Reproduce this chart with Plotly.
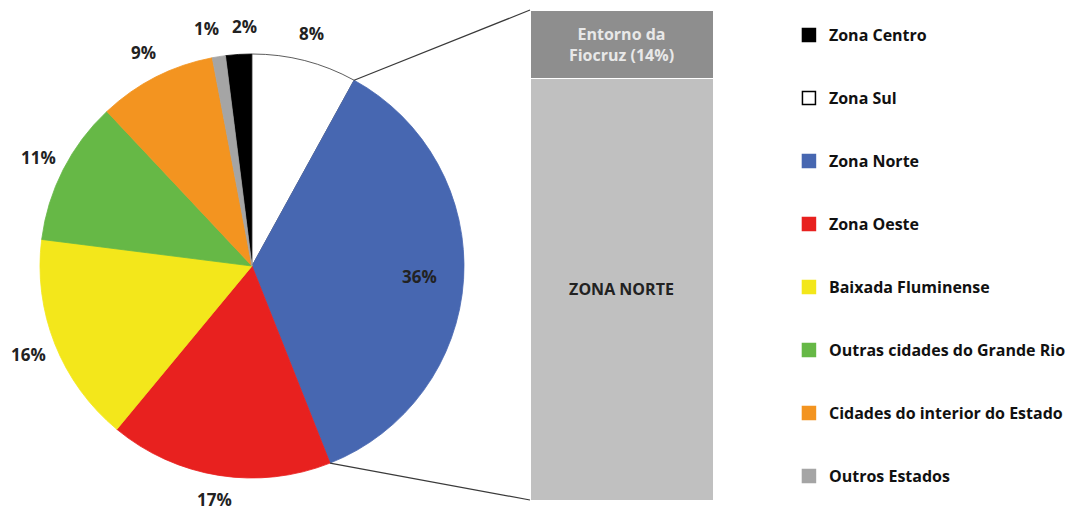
import math
import plotly.graph_objects as go

# data (legend order, pie runs clockwise in this order)
regions = ["Zona Centro", "Zona Sul", "Zona Norte", "Zona Oeste", "Baixada Fluminense",
           "Outras cidades do Grande Rio", "Cidades do interior do Estado", "Outros Estados"]
shares = [2, 8, 36, 17, 16, 11, 9, 1]
colors = ["#000000", "#ffffff", "#4767b1", "#e8211f", "#f3e71b", "#66b846", "#f39420", "#a5a5a5"]

# breakdown of Zona Norte shown in the side bar (bottom to top)
norte_parts = ["ZONA NORTE", "Entorno da<br>Fiocruz (14%)"]
norte_values = [86, 14]
norte_colors = ["#c0c0c0", "#8e8e8e"]
norte_text_colors = ["#222222", "#e8e8e8"]

# page body has an 8px margin, so the figure is a bit smaller than the window
W, H = 1072, 502
FONT = "Open Sans"

# pie geometry in pixels (figure coordinates)
cx, cy, r = 244, 258, 212
pie_dom_x = [(cx - r) / W, (cx + r) / W]
pie_dom_y = [(H - cy - r) / H, (H - cy + r) / H]

bar_dom_x = [522 / W, 705 / W]
bar_dom_y = [(H - 492) / H, (H - 2) / H]

total = sum(shares)
start = -360 * shares[0] / total  # Zona Centro sits just left of 12 o'clock

fig = go.Figure()

line_cols = ["#333333" if c == "#ffffff" else c for c in colors]

fig.add_trace(go.Pie(
    labels=regions,
    values=shares,
    sort=False,
    direction="clockwise",
    rotation=360 + start,
    marker=dict(colors=colors, line=dict(color=line_cols, width=0.8)),
    textinfo="none",
    domain=dict(x=pie_dom_x, y=pie_dom_y),
    showlegend=False,
    hoverinfo="label+percent",
))

# percentage labels at each slice's mid angle
labels = []
cum = 0
for reg, val in zip(regions, shares):
    mid = start + 360 * (cum + val / 2) / total
    cum += val
    rad = 0.79 * r if reg == "Zona Norte" else r + 28
    px = cx + rad * math.sin(math.radians(mid))
    py = min(cy - rad * math.cos(math.radians(mid)), H - 11)
    labels.append([px, py, f"{val}%"])

# push apart outside labels that would collide
min_dx, min_dy = 38, 16
for _ in range(5):
    for i in range(len(labels)):
        for j in range(i + 1, len(labels)):
            a, b = labels[i], labels[j]
            dx = b[0] - a[0]
            if abs(dx) < min_dx and abs(b[1] - a[1]) < min_dy:
                push = (min_dx - abs(dx)) / 2 * (1 if dx >= 0 else -1)
                a[0] -= push
                b[0] += push

for px, py, txt in labels:
    fig.add_annotation(x=px / W, y=1 - py / H, xref="paper", yref="paper",
                       xanchor="center", yanchor="middle",
                       text=txt, showarrow=False,
                       font=dict(family=FONT, size=17, color="#222222", weight="bold"))

for part, val, col, tcol in zip(norte_parts, norte_values, norte_colors, norte_text_colors):
    fig.add_trace(go.Bar(
        x=[0], y=[val], width=1,
        marker=dict(color=col, line=dict(color="#ffffff", width=1)),
        text=[part], textposition="inside", insidetextanchor="middle",
        textangle=0, constraintext="none",
        textfont=dict(family=FONT, size=16, color=tcol, weight="bold"),
        showlegend=False, hoverinfo="skip",
    ))

# legend entries with wide spacing
for i, (reg, col) in enumerate(zip(regions, colors)):
    fig.add_trace(go.Scatter(
        x=[None], y=[None], mode="markers", name=reg,
        marker=dict(symbol="square", size=13, color=col,
                    line=dict(color="#000000" if col == "#ffffff" else col, width=1.5)),
        legendgroup=f"g{i}", showlegend=True,
    ))

# connector lines from the Zona Norte slice edges to the bar corners
norte_idx = regions.index("Zona Norte")
a0 = start + 360 * sum(shares[:norte_idx]) / total
a1 = start + 360 * sum(shares[:norte_idx + 1]) / total
for ang, ty in [(a0, bar_dom_y[1]), (a1, bar_dom_y[0])]:
    px = cx + r * math.sin(math.radians(ang))
    py = cy - r * math.cos(math.radians(ang))
    fig.add_shape(type="line", xref="paper", yref="paper",
                  x0=px / W, y0=1 - py / H, x1=bar_dom_x[0], y1=ty,
                  line=dict(color="#3a3a3a", width=1.2))

fig.update_layout(
    width=W, height=H,
    margin=dict(l=0, r=0, t=0, b=0),
    paper_bgcolor="white", plot_bgcolor="white",
    barmode="stack",
    xaxis=dict(domain=bar_dom_x, range=[-0.5, 0.5], visible=False, fixedrange=True),
    yaxis=dict(domain=bar_dom_y, range=[0, 100], visible=False, fixedrange=True),
    legend=dict(
        x=0.7285, y=0.98, xanchor="left", yanchor="top",
        font=dict(family=FONT, size=16, color="#111111", weight="bold"),
        tracegroupgap=39.2, itemwidth=30, bgcolor="rgba(0,0,0,0)",
    ),
    font=dict(family=FONT),
)

fig.write_html("out.html")
